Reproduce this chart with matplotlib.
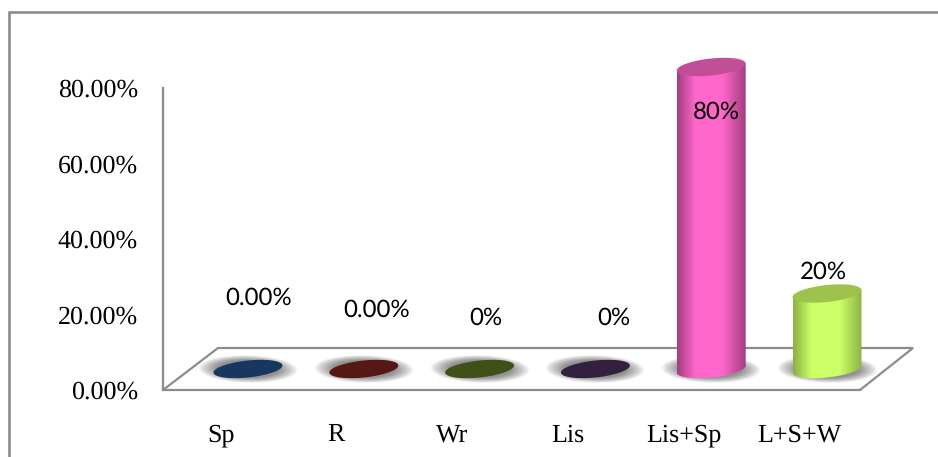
import numpy as np
import matplotlib
matplotlib.use("Agg")
import matplotlib.pyplot as plt
from matplotlib.patches import Polygon
from matplotlib.colors import LinearSegmentedColormap
from matplotlib.ticker import FuncFormatter
from matplotlib.transforms import ScaledTranslation

plt.rcParams["text.hinting"] = "no_hinting"
plt.rcParams["text.hinting_factor"] = 1

categories = ["Sp", "R", "Wr", "Lis", "Lis+Sp", "L+S+W"]
values = [0, 0, 0, 0, 80, 20]
value_labels = ["0.00%", "0.00%", "0%", "0%", "80%", "20%"]
y_ticks = [0, 20, 40, 60, 80]

side_colors = ["#17375E", "#632523", "#4F6228", "#3F3151", "#FF66CC", "#CCFF66"]
top_colors = ["#17375E", "#561715", "#3F5018", "#33203F", "#C04F97", "#9DC34C"]
edge_colors = ["#17375E", "#561715", "#3F5018", "#33203F", "#A23E7F", "#8DAF48"]
label_dx = [11, 13, 6, 18, 5, -4]      # pixels from the bar centre
label_dy = [-71, -59, -51, -51, 0, 0]  # pixels from base (zero bars)
label_top_dy = [0, 0, 0, 0, -45, 21]   # pixels from bar top

W, H = 938, 457
fig = plt.figure(figsize=(W / 100, H / 100), dpi=100)

# frame around chart (open at right and bottom)
bg = fig.add_axes([0, 0, 1, 1], zorder=0)
bg.set_xlim(0, W); bg.set_ylim(H, 0); bg.axis("off")
bg.plot([9, 9, W], [H, 12, 12], color="#8C8C8C", lw=1.9, solid_joinstyle="miter")

# plot axes: y axis spine at x=163, y from 390 (0) to 88 (80)
x0_px, x_step = 248.0, 115.8
L, R_, T, B = 163, 860, 88, 390
ax = fig.add_axes([L / W, 1 - B / H, (R_ - L) / W, (B - T) / H], zorder=1)
ax.patch.set_alpha(0)
ax.set_xlim((L - x0_px) / x_step, (R_ - x0_px) / x_step)
ax.set_ylim(0, 80)
for s in ["top", "right"]:
    ax.spines[s].set_visible(False)
for s in ["left", "bottom"]:
    ax.spines[s].set_color("#8C8C8C")
    ax.spines[s].set_linewidth(1.6)
ax.set_yticks(y_ticks)
ax.yaxis.set_major_formatter(FuncFormatter(lambda v, _: f"{v:.2f}%"))
ax.set_xticks(range(len(categories)), categories)
ax.tick_params(length=0, labelsize=18.8, labelcolor="black")
ax.tick_params(axis="x", pad=24)
ax.tick_params(axis="y", pad=18)
shift = ScaledTranslation(-27.5 / 100, 0, fig.dpi_scale_trans)
for t in ax.get_xticklabels():
    t.set_fontfamily("Liberation Serif")
    t.set_transform(t.get_transform() + shift)
for t in ax.get_yticklabels():
    t.set_fontfamily("Liberation Serif")

px_x = 1 / x_step                # data units per pixel
px_y = 80 / (B - T)
base_dy = 21 * px_y              # bar base sits above the axis baseline
back_dy = 42 * px_y

# 3-D floor
xa, xb = ax.get_xlim()
dx = 53 * px_x
ax.add_patch(Polygon([(xb, 0), (xb + dx, back_dy), (xa + 55 * px_x, back_dy), (xa, 0)],
                     closed=False, fill=False, ec="#8C8C8C", lw=1.6, clip_on=False, zorder=1))

# soft shadow
nx, ny = 120, 60
gx, gy = np.meshgrid(np.linspace(-1, 1, nx), np.linspace(-1, 1, ny))
rad = np.sqrt(gx ** 2 + (gy + gx * 0.08) ** 2)
alpha = np.clip((1.0 - rad) / 0.38, 0, 1) ** 0.8 * 0.85
shadow = np.zeros((ny, nx, 4)); shadow[..., :3] = 0.5; shadow[..., 3] = alpha


def outline(cx, cy, a=34.5, b=8.5, s=3.5, n=80):
    t = np.linspace(0, 2 * np.pi, n)
    return cx + a * px_x * np.cos(t), cy + px_y * (b * np.sin(t) + s * np.cos(t))


for i, v in enumerate(values):
    ax.imshow(shadow, extent=[i - 50 * px_x, i + 50 * px_x, base_dy - 14 * px_y, base_dy + 14 * px_y],
              aspect="auto", origin="lower", zorder=2, clip_on=False, interpolation="bilinear")
    tx, ty = outline(i, base_dy + v)
    if v > 0:
        lower = np.linspace(np.pi, 2 * np.pi, 50)
        a_, b_, s_ = 34.5 * px_x, 8.5 * px_y, 3.5 * px_y
        bx = i + a_ * np.cos(lower)
        by = base_dy + b_ * np.sin(lower) + s_ * np.cos(lower)
        body_xy = list(zip(bx, by)) + [(i + a_, base_dy + v + s_), (i - a_, base_dy + v - s_)]
        body = Polygon(body_xy, closed=True, fc="none", ec="none", zorder=3, clip_on=False)
        ax.add_patch(body)
        cmap = LinearSegmentedColormap.from_list(
            "cyl", [edge_colors[i], side_colors[i], side_colors[i], edge_colors[i]],
        )
        grad = np.interp(np.linspace(0, 1, 200), [0, .3, .62, 1], [0, .38, .62, 1])[None, :]
        im = ax.imshow(grad, extent=[i - a_, i + a_, 0, base_dy + v + 2 * s_], aspect="auto",
                       cmap=cmap, vmin=0, vmax=1, zorder=3)
        im.set_clip_path(body)
        im.set_clip_box(fig.bbox)
    ax.fill(tx, ty, color=top_colors[i], lw=0, zorder=4, clip_on=False)
    # value labels
    if v > 0:
        ly = base_dy + v + label_top_dy[i] * px_y
    else:
        ly = base_dy - label_dy[i] * px_y
    ax.text(i + label_dx[i] * px_x, ly, value_labels[i], ha="center", va="center",
            fontsize=17.5, family="Lato", color="black", zorder=5, clip_on=False)

ax.set_xlim(xa, xb); ax.set_ylim(0, 80)
fig.savefig("out.png", dpi=100)
